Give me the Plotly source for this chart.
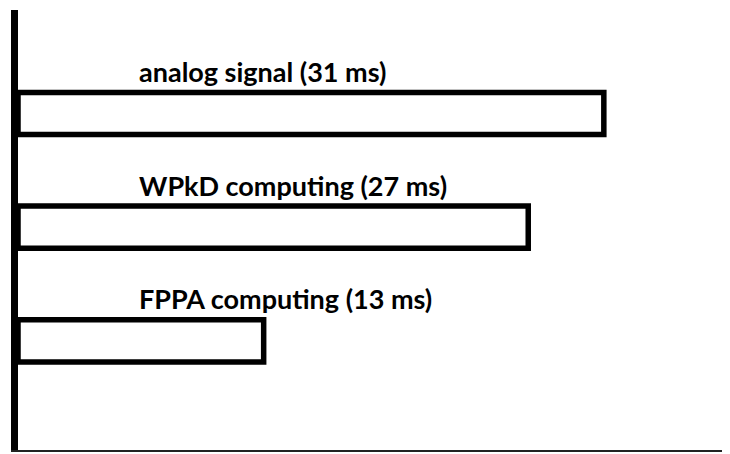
import plotly.graph_objects as go

# timing per processing stage, top to bottom
stages = ["analog signal", "WPkD computing", "FPPA computing"]
durations_ms = [31, 27, 13]
rows = [3, 2, 1]


def stage_bars(names, values, positions):
    return go.Bar(
        x=values,
        y=positions,
        orientation="h",
        width=0.37,
        marker=dict(color="white", line=dict(color="black", width=5.5)),
        hoverinfo="skip",
        showlegend=False,
    )


def stage_labels(names, values, positions):
    return [
        dict(
            x=6.3,
            y=pos + 0.37,
            xref="x",
            yref="y",
            text=f"<b>{name} ({val} ms)</b>",
            showarrow=False,
            xanchor="left",
            yanchor="middle",
            font=dict(family="Lato", size=27, color="black"),
        )
        for name, val, pos in zip(names, values, positions)
    ]


fig = go.Figure(data=[stage_bars(stages, durations_ms, rows)])

fig.update_layout(
    width=730,
    height=454,
    margin=dict(l=10, r=0, t=2, b=12),
    paper_bgcolor="white",
    plot_bgcolor="white",
    annotations=stage_labels(stages, durations_ms, rows),
    xaxis=dict(
        range=[0, 38.1],
        showgrid=False,
        zeroline=False,
        showticklabels=False,
        ticks="",
        showline=True,
        linecolor="#222222",
        linewidth=2,
    ),
    yaxis=dict(
        range=[0.04, 3.91],
        showgrid=False,
        zeroline=False,
        showticklabels=False,
        ticks="",
        showline=True,
        linecolor="black",
        linewidth=7,
    ),
)

fig.write_html("out.html")
